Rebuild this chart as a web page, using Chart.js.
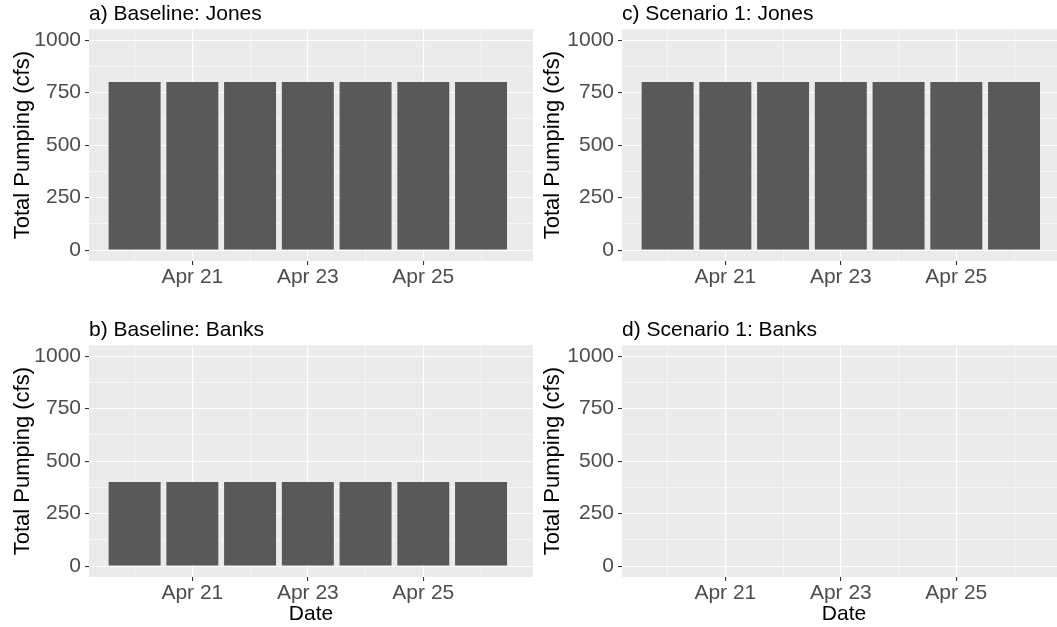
<!DOCTYPE html>
<html>
<head>
<meta charset="utf-8">
<script src="https://cdn.jsdelivr.net/npm/chart.js@4.4.1/dist/chart.umd.min.js"></script>
<style>
  html, body { margin: 0; padding: 0; background: #fff; overflow: hidden; }
  body { width: 1057px; height: 627px; position: relative; }
  .panel { position: absolute; }
</style>
</head>
<body>
<div class="panel" style="left:0px;top:0px;"><canvas id="chartA" width="540" height="300"></canvas></div>
<div class="panel" style="left:530px;top:0px;"><canvas id="chartC" width="540" height="300"></canvas></div>
<div class="panel" style="left:0px;top:316px;"><canvas id="chartB" width="540" height="311"></canvas></div>
<div class="panel" style="left:530px;top:316px;"><canvas id="chartD" width="540" height="311"></canvas></div>
<script>
// days of April, one bar each
var days = [20, 21, 22, 23, 24, 25, 26];
var baselineJones = [800, 800, 800, 800, 800, 800, 800];
var baselineBanks = [400, 400, 400, 400, 400, 400, 400];
var scenario1Jones = [800, 800, 800, 800, 800, 800, 800];
var scenario1Banks = [0, 0, 0, 0, 0, 0, 0];

var xMajor = [21, 23, 25];
var xMinor = [20, 22, 24, 26];
var yMajor = [0, 250, 500, 750, 1000];
var yMinor = [125, 375, 625, 875];

var FONT = "'Liberation Sans', Arial, sans-serif";

var panelBg = {
	id: 'panelBg',
	beforeDraw: function (chart) {
		var a = chart.chartArea;
		var ctx = chart.ctx;
		ctx.save();
		ctx.fillStyle = '#EBEBEB';
		ctx.fillRect(a.left, a.top, a.right - a.left, a.bottom - a.top);
		ctx.restore();
	}
};

var isMajor = function (list, ctx) {
	return ctx.tick && list.indexOf(ctx.tick.value) !== -1;
};

var drawPanel = function (id, title, values, yWidth, xHeight, padRight, showDate) {
	var points = days.map(function (d, i) { return { x: d, y: values[i] }; });
	new Chart(document.getElementById(id), {
		type: 'bar',
		data: {
			datasets: [{
				data: points,
				backgroundColor: '#595959',
				borderWidth: 0,
				barPercentage: 0.9,
				categoryPercentage: 1
			}]
		},
		options: {
			responsive: false,
			animation: false,
			layout: { padding: { left: 0, right: padRight, top: 0, bottom: 0 } },
			plugins: {
				legend: { display: false },
				tooltip: { enabled: false },
				title: {
					display: true,
					text: title,
					align: 'start',
					fullSize: false,
					color: '#000',
					font: { family: FONT, size: 21, weight: 'normal', lineHeight: 1.2 },
					padding: { top: 2, bottom: 2 }
				}
			},
			scales: {
				x: {
					type: 'linear',
					offset: false,
					min: 19.21,
					max: 26.9,
					afterBuildTicks: function (s) {
						s.ticks = xMinor.concat(xMajor).sort(function (a, b) { return a - b; })
							.map(function (v) { return { value: v }; });
					},
					afterFit: function (s) { s.height = xHeight; },
					border: { display: false },
					grid: {
						offset: false,
						color: '#FFFFFF',
						lineWidth: function (ctx) { return isMajor(xMajor, ctx) ? 1.1 : 0.55; },
						tickColor: function (ctx) { return isMajor(xMajor, ctx) ? '#333333' : 'rgba(0,0,0,0)'; },
						tickLength: 4
					},
					ticks: {
						autoSkip: false,
						maxRotation: 0,
						padding: 0,
						color: '#4D4D4D',
						font: { family: FONT, size: 21 },
						callback: function (v) { return xMajor.indexOf(v) !== -1 ? 'Apr ' + v : ''; }
					},
					title: {
						display: showDate,
						text: 'Date',
						color: '#000',
						font: { family: FONT, size: 21 },
						padding: { top: 0, bottom: 0 }
					}
				},
				y: {
					type: 'linear',
					min: -52,
					max: 1052,
					afterBuildTicks: function (s) {
						s.ticks = yMinor.concat(yMajor).sort(function (a, b) { return a - b; })
							.map(function (v) { return { value: v }; });
					},
					afterFit: function (s) { s.width = yWidth; },
					border: { display: false },
					grid: {
						color: '#FFFFFF',
						lineWidth: function (ctx) { return isMajor(yMajor, ctx) ? 1.1 : 0.55; },
						tickColor: function (ctx) { return isMajor(yMajor, ctx) ? '#333333' : 'rgba(0,0,0,0)'; },
						tickLength: 4
					},
					ticks: {
						autoSkip: false,
						padding: 4,
						color: '#4D4D4D',
						font: { family: FONT, size: 21 },
						callback: function (v) { return yMajor.indexOf(v) !== -1 ? String(v) : ''; }
					},
					title: {
						display: true,
						text: 'Total Pumping (cfs)',
						color: '#000',
						font: { family: FONT, size: 22 },
						padding: { top: 10, bottom: 0 }
					}
				}
			}
		},
		plugins: [panelBg]
	});
};

drawPanel('chartA', 'a) Baseline: Jones', baselineJones, 89, 39, 7, false);
drawPanel('chartC', 'c) Scenario 1: Jones', scenario1Jones, 92, 39, 4, false);
drawPanel('chartB', 'b) Baseline: Banks', baselineBanks, 89, 50, 7, true);
drawPanel('chartD', 'd) Scenario 1: Banks', scenario1Banks, 92, 50, 4, true);
</script>
</body>
</html>
